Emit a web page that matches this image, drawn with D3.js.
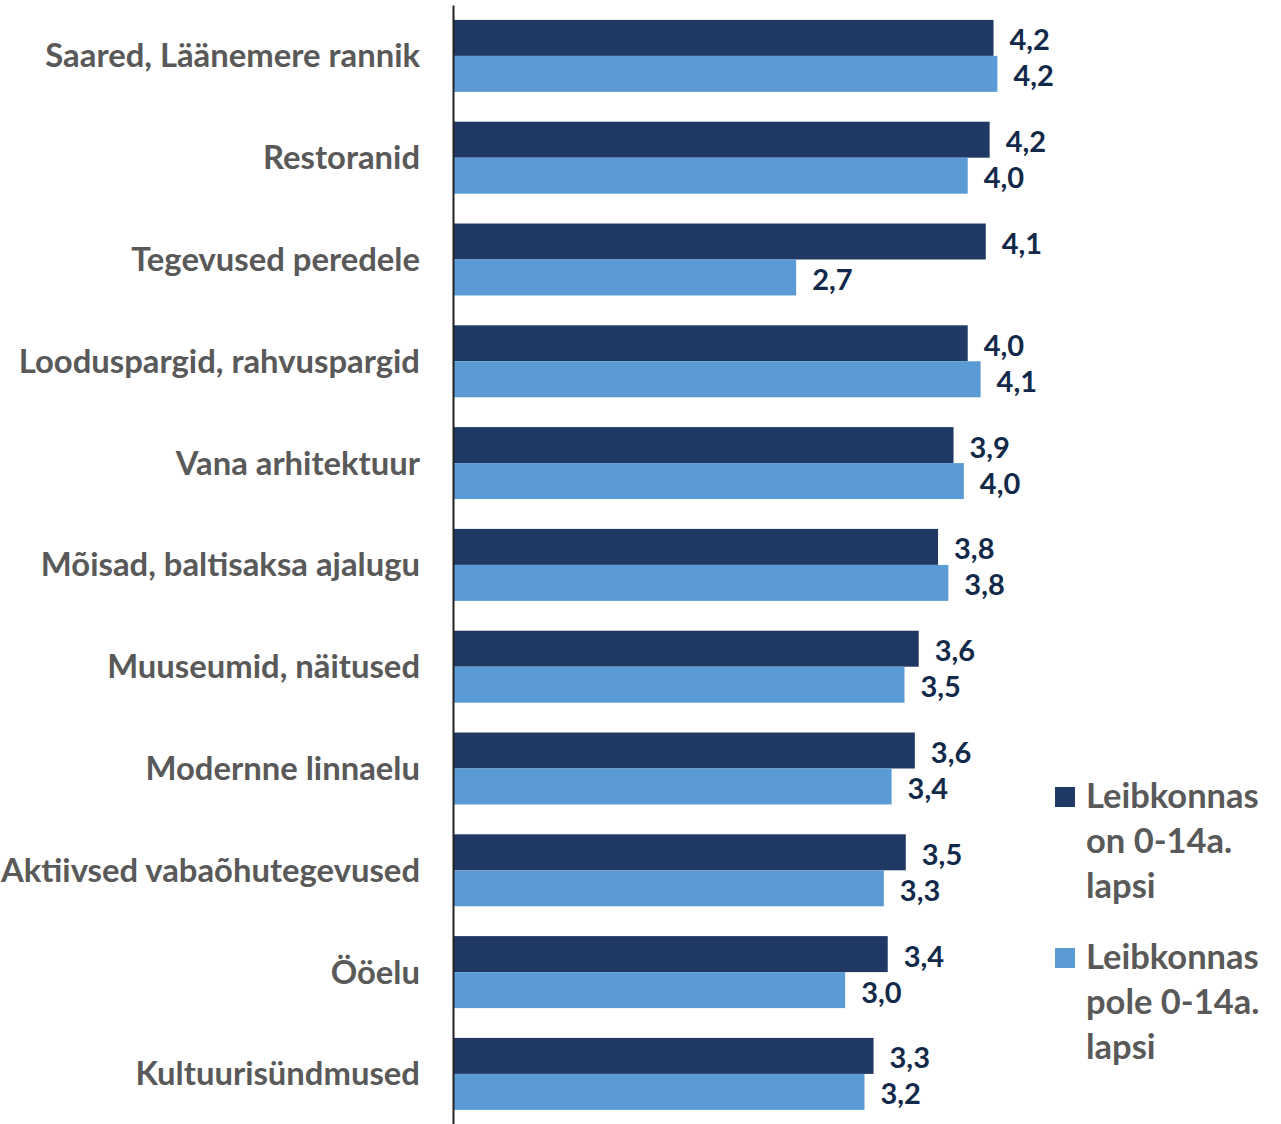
<!DOCTYPE html>
<html>
<head>
<meta charset="utf-8">
<script src="https://cdn.jsdelivr.net/npm/d3@7"></script>
<style>
  html, body { margin: 0; padding: 0; background: #fff; }
  svg { display: block; }
</style>
</head>
<body>
<div id="chart"></div>
<script>
// Hinnangud puhkuse tegevustele (skaala 1–5)
const categories = [
  "Saared, Läänemere rannik",
  "Restoranid",
  "Tegevused peredele",
  "Looduspargid, rahvuspargid",
  "Vana arhitektuur",
  "Mõisad, baltisaksa ajalugu",
  "Muuseumid, näitused",
  "Modernne linnaelu",
  "Aktiivsed vabaõhutegevused",
  "Ööelu",
  "Kultuurisündmused"
];
const withKids = [4.19, 4.16, 4.13, 3.99, 3.88, 3.76, 3.61, 3.58, 3.51, 3.37, 3.26];
const withoutKids = [4.22, 3.99, 2.66, 4.09, 3.96, 3.84, 3.50, 3.40, 3.34, 3.04, 3.19];
const seriesNames = [
  ["Leibkonnas", "on 0-14a.", "lapsi"],
  ["Leibkonnas", "pole 0-14a.", "lapsi"]
];
const xDomain = [0, 4.5];

const W = 1281, H = 1124;
const colors = ["#203864", "#5b9bd5"];
const labelColor = "#12294a";
const textGrey = "#595959";
const font = "Lato, 'Open Sans', sans-serif";

const series = [withKids, withoutKids];
const rows = categories.map((c, i) => ({ cat: c, vals: series.map(s => s[i]) }));

const et = d3.formatLocale({ decimal: ",", thousands: " ", grouping: [3], currency: ["", " €"] });
const fmt = et.format(".1f");

const svg = d3.select("#chart").append("svg")
  .attr("width", W).attr("height", H);

const x = d3.scaleLinear().domain(xDomain).range([453, 1033.5]);
const y = d3.scaleBand().domain(categories)
  .range([5, 1124.8]).paddingInner(0.293).paddingOuter(0.1465);
const sub = d3.scaleBand().domain(d3.range(series.length))
  .range([0, y.bandwidth()]);

// Bars
const groups = svg.append("g").selectAll("g").data(rows).join("g")
  .attr("transform", d => `translate(0,${y(d.cat)})`);

groups.selectAll("rect").data(d => d.vals).join("rect")
  .attr("x", x(0) + 1)
  .attr("y", (v, i) => sub(i))
  .attr("width", v => x(v) - x(0) - 1)
  .attr("height", sub.bandwidth())
  .attr("fill", (v, i) => colors[i]);

// Value labels
groups.selectAll("text.val").data(d => d.vals).join("text")
  .attr("class", "val")
  .attr("x", v => x(v) + 16)
  .attr("y", (v, i) => sub(i) + sub.bandwidth() / 2 + 1)
  .attr("dominant-baseline", "central")
  .attr("font-family", font)
  .attr("font-weight", 700)
  .attr("font-size", 29)
  .attr("fill", labelColor)
  .text(v => fmt(v));

// Category axis
const axis = svg.append("g")
  .attr("transform", `translate(${x(0)},0)`)
  .call(d3.axisLeft(y).tickSize(0).tickPadding(33));
axis.select(".domain").attr("stroke", "#222").attr("stroke-width", 2);
axis.selectAll(".tick text")
  .attr("font-family", font)
  .attr("font-weight", 700)
  .attr("font-size", 32.8)
  .attr("fill", textGrey)
  .attr("dy", "0.35em");

// Legend
const legend = svg.append("g");
const legendTop = [787, 948];
seriesNames.forEach((lines, i) => {
  const g = legend.append("g").attr("transform", `translate(1055,${legendTop[i]})`);
  g.append("rect").attr("width", 20).attr("height", 20).attr("fill", colors[i]);
  const t = g.append("text")
    .attr("font-family", font)
    .attr("font-weight", 700)
    .attr("font-size", 34.5)
    .attr("fill", textGrey);
  lines.forEach((ln, j) => {
    t.append("tspan").attr("x", 31).attr("y", 21 + j * 45).text(ln);
  });
});
</script>
</body>
</html>
